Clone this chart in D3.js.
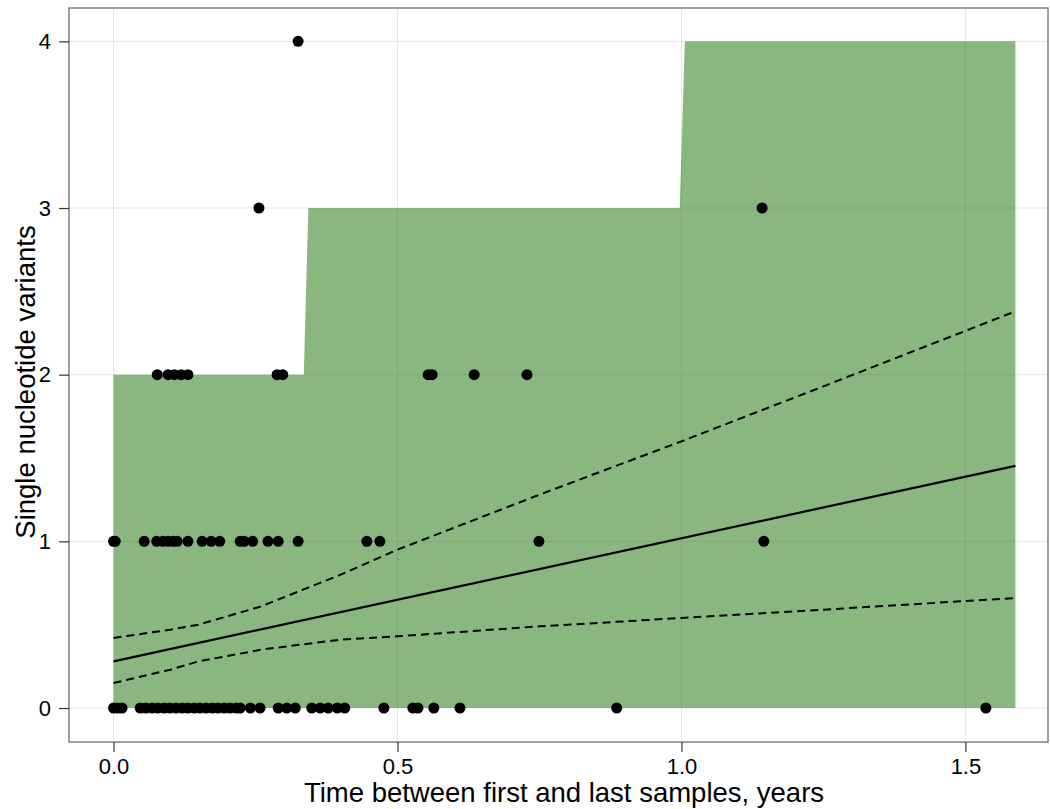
<!DOCTYPE html>
<html><head><meta charset="utf-8">
<script src="https://cdn.jsdelivr.net/npm/d3@7/dist/d3.min.js"></script>
<style>body{margin:0;background:#fff}svg{display:block}text{font-family:"Liberation Sans",Arial,sans-serif;fill:#000}</style>
</head><body><svg id="c" width="1050" height="809"></svg>
<script>
// ---- data ----
const xTicks = [0, 0.5, 1.0, 1.5];
const xTickLabels = ["0.0", "0.5", "1.0", "1.5"];
const yTicks = [0, 1, 2, 3, 4];
const yTickLabels = ["0", "1", "2", "3", "4"];

// observed points, grouped by SNV count
const times0 = [0, 0.008, 0.015, 0.047, 0.057, 0.068, 0.078, 0.089, 0.099, 0.11, 0.121, 0.131, 0.142, 0.152, 0.163, 0.174, 0.184, 0.195, 0.205, 0.216, 0.223, 0.241, 0.258, 0.29, 0.305, 0.32, 0.349, 0.364, 0.378, 0.394, 0.407, 0.476, 0.527, 0.536, 0.564, 0.61, 0.886, 1.536];
const times1 = [0, 0.003, 0.054, 0.076, 0.087, 0.096, 0.105, 0.112, 0.131, 0.156, 0.172, 0.187, 0.223, 0.23, 0.245, 0.272, 0.29, 0.325, 0.446, 0.469, 0.749, 1.145];
const times2 = [0.077, 0.096, 0.107, 0.119, 0.131, 0.288, 0.298, 0.554, 0.561, 0.635, 0.728];
const times3 = [0.256, 1.142];
const times4 = [0.325];

// prediction band (step upper bound)
const bandX = [0, 0.335, 0.343, 0.997, 1.006, 1.588];
const bandHi = [2, 2, 3, 3, 4, 4];
const bandLo = [0, 0, 0, 0, 0, 0];

// fitted line and confidence limits
const fitX = [0, 1.588];
const fitY = [0.28, 1.453];
const ciX = [0, 0.1, 0.15, 0.26, 0.4, 0.5, 0.75, 1.0, 1.25, 1.588];
const ciHi = [0.42, 0.47, 0.5, 0.61, 0.8, 0.95, 1.28, 1.6, 1.93, 2.38];
const ciLo = [0.15, 0.23, 0.28, 0.35, 0.41, 0.43, 0.49, 0.54, 0.59, 0.66];

const xTitle = "Time between first and last samples, years";
const yTitle = "Single nucleotide variants";

// ---- drawing ----
const svg = d3.select("#c");
const L = 69, R = 1048, T = 8, B = 742;
const x = d3.scaleLinear().domain([-0.0784, 1.6454]).range([L, R]);
const y = d3.scaleLinear().domain([-0.204, 4.2]).range([B, T]);

// grid
svg.append("g").selectAll("line").data(xTicks).join("line")
  .attr("x1", d => x(d)).attr("x2", d => x(d)).attr("y1", T).attr("y2", B)
  .attr("stroke", "#e6e6e6").attr("stroke-width", 1);
svg.append("g").selectAll("line").data(yTicks).join("line")
  .attr("y1", d => y(d)).attr("y2", d => y(d)).attr("x1", L).attr("x2", R)
  .attr("stroke", "#e6e6e6").attr("stroke-width", 1);

// band
const band = bandX.map((d, i) => ({x: d, lo: bandLo[i], hi: bandHi[i]}));
svg.append("path").datum(band)
  .attr("d", d3.area().x(d => x(d.x)).y0(d => y(d.lo)).y1(d => y(d.hi)))
  .attr("fill", "rgb(21,111,1)").attr("fill-opacity", 0.5);

// points
const pts = [];
[times0, times1, times2, times3, times4].forEach((arr, k) => arr.forEach(t => pts.push({t, v: k})));
svg.append("g").selectAll("circle").data(pts).join("circle")
  .attr("cx", d => x(d.t)).attr("cy", d => y(d.v)).attr("r", 5.5).attr("fill", "#000");

// lines
const line = d3.line().x(d => x(d[0])).y(d => y(d[1]));
svg.append("path").datum(fitX.map((d, i) => [d, fitY[i]])).attr("d", line)
  .attr("fill", "none").attr("stroke", "#000").attr("stroke-width", 2.2);
svg.append("path").datum(ciX.map((d, i) => [d, ciHi[i]])).attr("d", line)
  .attr("fill", "none").attr("stroke", "#000").attr("stroke-width", 2).attr("stroke-dasharray", "8,5");
svg.append("path").datum(ciX.map((d, i) => [d, ciLo[i]])).attr("d", line)
  .attr("fill", "none").attr("stroke", "#000").attr("stroke-width", 2).attr("stroke-dasharray", "8,5");

// panel border
svg.append("rect").attr("x", L).attr("y", T).attr("width", R - L).attr("height", B - T)
  .attr("fill", "none").attr("stroke", "#808080").attr("stroke-width", 1.5);

// axes
const xa = svg.append("g").attr("transform", `translate(0,${B})`)
  .call(d3.axisBottom(x).tickValues(xTicks).tickFormat((d, i) => xTickLabels[i]).tickSize(10).tickPadding(6));
const ya = svg.append("g").attr("transform", `translate(${L},0)`)
  .call(d3.axisLeft(y).tickValues(yTicks).tickFormat((d, i) => yTickLabels[i]).tickSize(10).tickPadding(8));
[xa, ya].forEach(a => {
  a.select(".domain").remove();
  a.selectAll(".tick line").attr("stroke", "#333").attr("stroke-width", 1.2);
  a.selectAll(".tick text").attr("font-size", 22).attr("font-family", '"Liberation Sans",Arial,sans-serif').attr("fill", "#000");
});

svg.append("text").attr("x", 564).attr("y", 802).attr("text-anchor", "middle")
  .attr("font-size", 27.5).text(xTitle);
svg.append("text").attr("transform", `translate(35,${382}) rotate(-90)`)
  .attr("text-anchor", "middle").attr("font-size", 27.5).text(yTitle);
</script></body></html>
